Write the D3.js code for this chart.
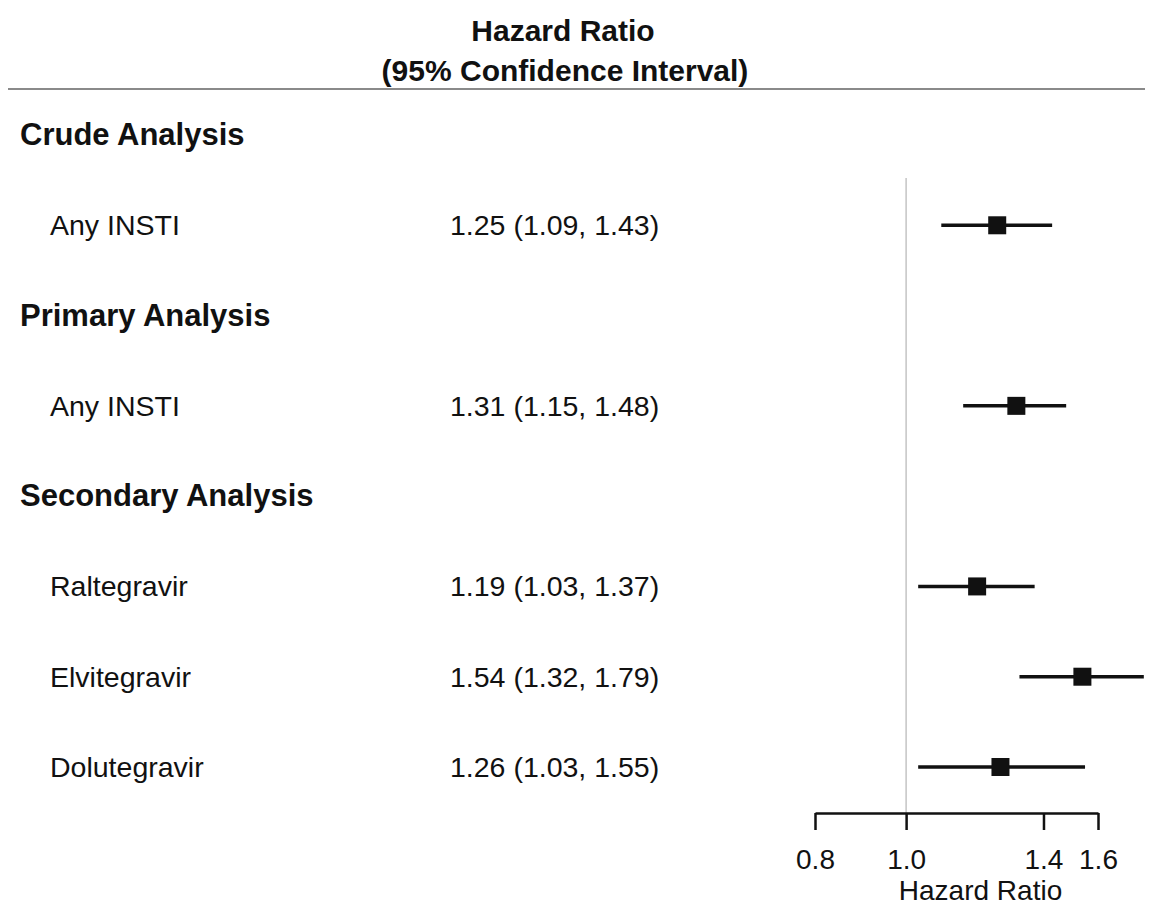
<!DOCTYPE html>
<html>
<head>
<meta charset="utf-8">
<script src="https://cdn.jsdelivr.net/npm/d3@7"></script>
<style>
  body { margin: 0; background: #fff; }
  text { font-family: 'Liberation Sans', Arial, sans-serif; fill: #111; }
</style>
</head>
<body>
<div id="graf"></div>
<script>
// -- Datos
etiquetas = ['Crude Analysis', 'Any INSTI', 'Primary Analysis', 'Any INSTI',
             'Secondary Analysis', 'Raltegravir', 'Elvitegravir', 'Dolutegravir']
esTitulo  = [true, false, true, false, true, false, false, false]
hr   = [null, 1.25, null, 1.31, null, 1.19, 1.54, 1.26]
bajo = [null, 1.09, null, 1.15, null, 1.03, 1.32, 1.03]
alto = [null, 1.43, null, 1.48, null, 1.37, 1.79, 1.55]
ticksHR = [0.8, 1.0, 1.4, 1.6]

ancho_total = 1151
alto_total = 909

svg = d3.select('#graf').append('svg')
        .attr('width', ancho_total)
        .attr('height', alto_total)

// -- Escaladores
x = d3.scaleLog().domain([0.8, 1.6]).range([815, 1098])
y = d3.scalePoint().domain(d3.range(etiquetas.length)).range([135, 767])

filas = etiquetas.map((e, i) => ({
    idx: i, etiqueta: e, titulo: esTitulo[i],
    hr: hr[i], bajo: bajo[i], alto: alto[i]
}))

// -- Encabezado
svg.append('text')
    .attr('x', 563).attr('y', 41)
    .attr('text-anchor', 'middle')
    .attr('font-size', '30px').attr('font-weight', 'bold')
    .text('Hazard Ratio')
svg.append('text')
    .attr('x', 565).attr('y', 81)
    .attr('text-anchor', 'middle')
    .attr('font-size', '30px').attr('font-weight', 'bold')
    .text('(95% Confidence Interval)')
svg.append('line')
    .attr('x1', 8).attr('x2', 1145)
    .attr('y1', 89).attr('y2', 89)
    .attr('stroke', '#8a8a8a').attr('stroke-width', 2)

// -- Línea de referencia en HR = 1
svg.append('line')
    .attr('x1', x(1)).attr('x2', x(1))
    .attr('y1', 178).attr('y2', 813)
    .attr('stroke', '#c4c4c4').attr('stroke-width', 1.5)

// -- Etiquetas de filas
svg.selectAll('text.etq')
    .data(filas)
    .enter().append('text')
        .attr('class', 'etq')
        .attr('x', d => d.titulo ? 20 : 50)
        .attr('y', d => y(d.idx) + 10)
        .attr('font-size', d => d.titulo ? '31px' : '28.5px')
        .attr('font-weight', d => d.titulo ? 'bold' : 'normal')
        .text(d => d.etiqueta)

estim = filas.filter(d => d.hr != null)
fmt = d3.format('.2f')

svg.selectAll('text.ic')
    .data(estim)
    .enter().append('text')
        .attr('class', 'ic')
        .attr('x', 450)
        .attr('y', d => y(d.idx) + 10)
        .attr('font-size', '28.5px')
        .text(d => `${fmt(d.hr)} (${fmt(d.bajo)}, ${fmt(d.alto)})`)

// -- Intervalos y puntos
svg.selectAll('line.ic')
    .data(estim)
    .enter().append('line')
        .attr('class', 'ic')
        .attr('x1', d => x(d.bajo)).attr('x2', d => x(d.alto))
        .attr('y1', d => y(d.idx)).attr('y2', d => y(d.idx))
        .attr('stroke', '#111').attr('stroke-width', 3.5)

lado = 18
svg.selectAll('rect.pt')
    .data(estim)
    .enter().append('rect')
        .attr('class', 'pt')
        .attr('x', d => x(d.hr) - lado / 2)
        .attr('y', d => y(d.idx) - lado / 2)
        .attr('width', lado).attr('height', lado)
        .attr('fill', '#111')

// -- Eje
xAxis = d3.axisBottom(x)
            .tickValues(ticksHR)
            .tickFormat(d3.format('.1f'))
            .tickSize(17)
            .tickSizeOuter(0)
eje = svg.append('g')
    .attr('transform', 'translate(0,813)')
    .call(xAxis)
eje.select('.domain').attr('stroke', '#111').attr('stroke-width', 2.5)
eje.selectAll('.tick line').attr('stroke', '#111').attr('stroke-width', 2.5)
eje.selectAll('.tick text')
    .attr('font-family', "'Liberation Sans', Arial, sans-serif")
    .attr('font-size', '28px')
    .attr('fill', '#111')
    .attr('dy', 0)
    .attr('y', 56)

svg.append('text')
    .attr('x', x(1.2)).attr('y', 900)
    .attr('text-anchor', 'middle')
    .attr('font-size', '28px')
    .text('Hazard Ratio')
</script>
</body>
</html>
